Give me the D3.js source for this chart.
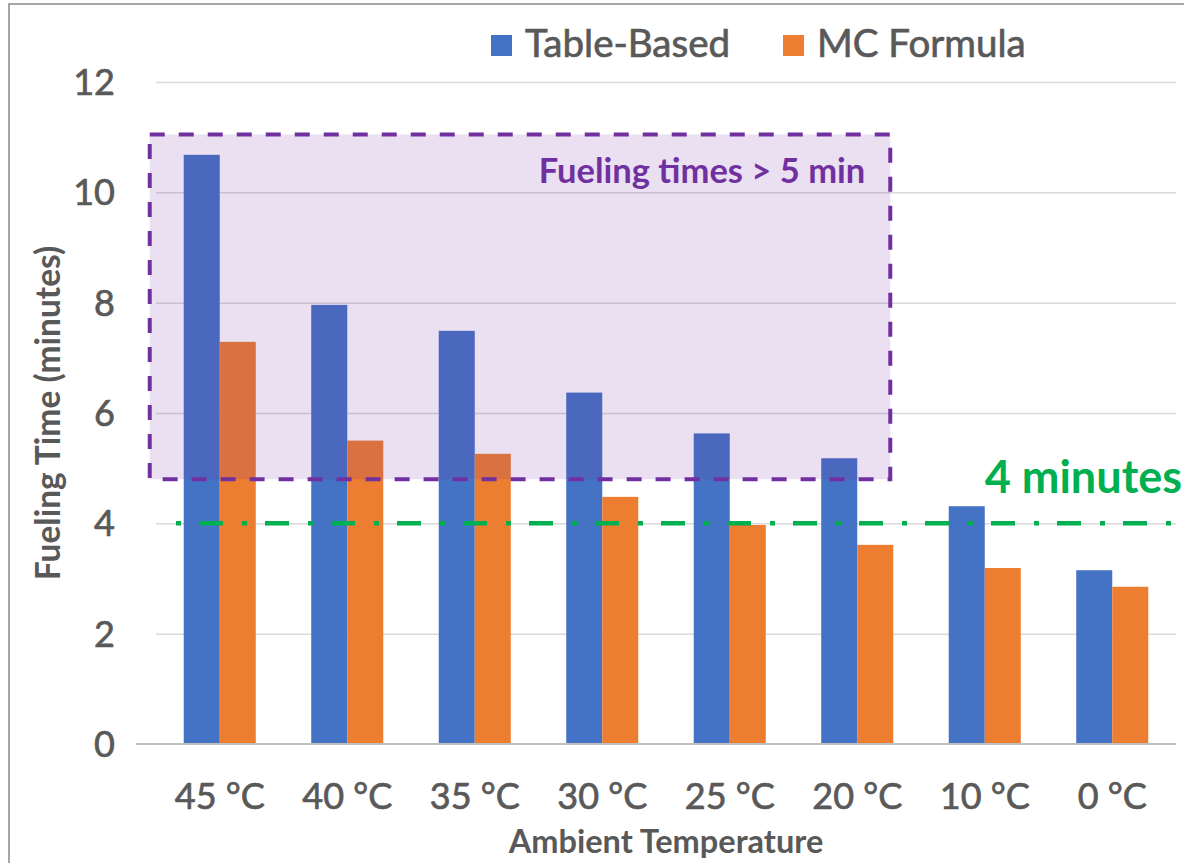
<!DOCTYPE html>
<html>
<head>
<meta charset="utf-8">
<script src="https://cdn.jsdelivr.net/npm/d3@7"></script>
<style>
  html, body { margin: 0; padding: 0; background: #fff; }
  svg { display: block; font-family: Lato, "Open Sans", sans-serif; }
  .lbl { stroke: #595959; stroke-width: 0.7px; }
</style>
</head>
<body>
<svg id="chart" width="1184" height="863"></svg>
<script>
// chart values
var categories = ["45 °C", "40 °C", "35 °C", "30 °C", "25 °C", "20 °C", "10 °C", "0 °C"];
var seriesNames = ["Table-Based", "MC Formula"];
var tableBased = [10.68, 7.96, 7.49, 6.37, 5.63, 5.18, 4.31, 3.15];
var mcFormula = [7.29, 5.5, 5.26, 4.48, 3.97, 3.61, 3.19, 2.85];
var yTicks = [0, 2, 4, 6, 8, 10, 12];
var limitValue = [4];
var limitLabel = ["4 minutes"];
var boxRange = [4.8, 11.05];
var boxCats = ["45 °C", "20 °C"];
var boxLabel = ["Fueling times > 5 min"];

var W = 1184, H = 863;
var margin = {top: 82, right: 8, bottom: 119, left: 156};

var svg = d3.select("#chart");

// outer border
svg.append("rect")
  .attr("x", 9).attr("y", 4)
  .attr("width", W + 20).attr("height", H + 20)
  .attr("fill", "none")
  .attr("stroke", "#a6a6a6")
  .attr("stroke-width", 2);

var x = d3.scaleBand()
  .domain(categories)
  .range([margin.left, W - margin.right])
  .paddingInner(0.435)
  .paddingOuter(0.2175);

var xs = d3.scaleBand()
  .domain(seriesNames)
  .range([0, x.bandwidth()]);

var y = d3.scaleLinear()
  .domain([0, 12])
  .range([H - margin.bottom, margin.top]);

var color = d3.scaleOrdinal()
  .domain(seriesNames)
  .range(["#4472c4", "#ed7d31"]);

// gridlines
var grid = svg.append("g")
  .attr("transform", "translate(" + margin.left + ",0)")
  .call(d3.axisLeft(y).tickValues(yTicks.filter(function(d) { return d > 0; }))
    .tickSize(-(W - margin.right - margin.left)).tickFormat(""));
grid.select(".domain").remove();
grid.selectAll("line").attr("stroke", "#d9d9d9").attr("stroke-width", 1.5);

// bars
var rows = categories.map(function(c, i) {
  return {cat: c, values: [
    {name: seriesNames[0], v: tableBased[i]},
    {name: seriesNames[1], v: mcFormula[i]}
  ]};
});

svg.append("g").selectAll("g")
  .data(rows).join("g")
  .attr("transform", function(d) { return "translate(" + x(d.cat) + ",0)"; })
  .selectAll("rect")
  .data(function(d) { return d.values; }).join("rect")
  .attr("x", function(d) { return xs(d.name); })
  .attr("width", xs.bandwidth())
  .attr("y", function(d) { return y(d.v); })
  .attr("height", function(d) { return y(0) - y(d.v); })
  .attr("fill", function(d) { return color(d.name); });

// baseline
svg.append("line")
  .attr("x1", margin.left - 20).attr("x2", W - margin.right)
  .attr("y1", y(0)).attr("y2", y(0))
  .attr("stroke", "#bfbfbf").attr("stroke-width", 2);

// y tick labels
svg.append("g").selectAll("text")
  .data(yTicks).join("text")
  .attr("class", "lbl")
  .attr("x", margin.left - 41)
  .attr("y", function(d) { return y(d); })
  .attr("dy", "0.36em")
  .attr("text-anchor", "end")
  .attr("font-size", 36)
  .attr("fill", "#595959")
  .text(function(d) { return d; });

// x tick labels
svg.append("g").selectAll("text")
  .data(categories).join("text")
  .attr("class", "lbl")
  .attr("x", function(d) { return x(d) + x.bandwidth() / 2; })
  .attr("y", y(0) + 65)
  .attr("text-anchor", "middle")
  .attr("font-size", 36)
  .attr("fill", "#595959")
  .text(function(d) { return d; });

// axis titles
svg.append("text")
  .attr("x", (margin.left + W - margin.right) / 2)
  .attr("y", 853)
  .attr("text-anchor", "middle")
  .attr("font-size", 32.5)
  .attr("font-weight", "bold")
  .attr("fill", "#595959")
  .text("Ambient Temperature");

svg.append("text")
  .attr("transform", "translate(60," + (y(0) + y(12)) / 2 + ") rotate(-90)")
  .attr("text-anchor", "middle")
  .attr("font-size", 33.5)
  .attr("font-weight", "bold")
  .attr("fill", "#595959")
  .text("Fueling Time (minutes)");

// legend
var legend = svg.append("g").selectAll("g")
  .data(seriesNames).join("g")
  .attr("transform", function(d, i) { return "translate(" + [491, 783][i] + ",35)"; });
legend.append("rect")
  .attr("width", 21).attr("height", 21)
  .attr("fill", function(d) { return color(d); });
legend.append("text")
  .attr("class", "lbl")
  .attr("x", 34).attr("y", 22)
  .attr("font-size", 38.5)
  .attr("fill", "#595959")
  .text(function(d) { return d; });

// highlighted region
var bx0 = x(boxCats[0]) - 34;
var bx1 = x(boxCats[1]) + x.bandwidth() - 3;
svg.append("rect")
  .attr("x", bx0).attr("y", y(boxRange[1]))
  .attr("width", bx1 - bx0).attr("height", y(boxRange[0]) - y(boxRange[1]))
  .attr("fill", "rgba(112,48,160,0.15)")
  .attr("stroke", "#7030a0")
  .attr("stroke-width", 4)
  .attr("stroke-dasharray", "15,14");

svg.append("text")
  .attr("x", bx1 - 25)
  .attr("y", y(boxRange[1]) + 49)
  .attr("text-anchor", "end")
  .attr("font-size", 34.5)
  .attr("font-weight", "bold")
  .attr("fill", "#7030a0")
  .text(boxLabel[0]);

// 4 minute limit
svg.append("line")
  .attr("x1", margin.left + 1).attr("x2", W)
  .attr("y1", y(limitValue[0])).attr("y2", y(limitValue[0]))
  .attr("stroke", "#00b050")
  .attr("stroke-width", 4.5)
  .attr("stroke-dasharray", "24,19,5,18")
  .attr("stroke-dashoffset", 24);

svg.append("text")
  .attr("x", W - 2)
  .attr("y", y(limitValue[0]) - 30)
  .attr("text-anchor", "end")
  .attr("font-size", 45)
  .attr("font-weight", "bold")
  .attr("fill", "#00b050")
  .text(limitLabel[0]);
</script>
</body>
</html>
